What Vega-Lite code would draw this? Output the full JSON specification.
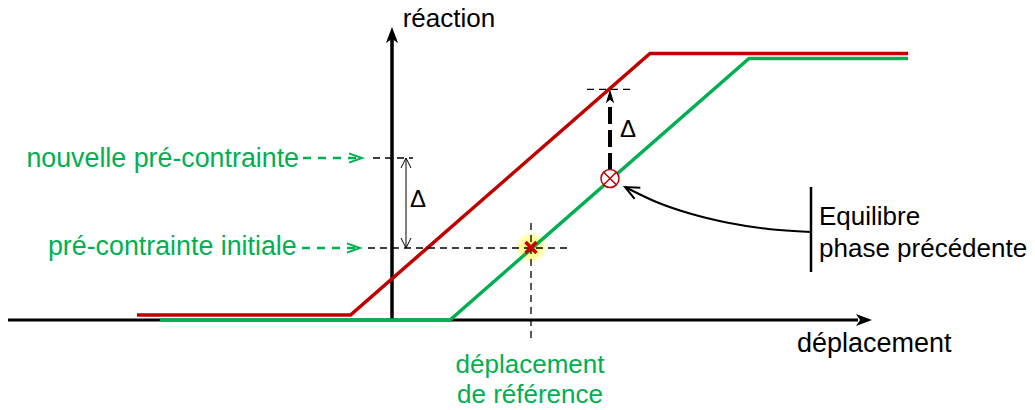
{
  "$schema": "https://vega.github.io/schema/vega-lite/v6.json",
  "width": 1035,
  "height": 410,
  "padding": 0,
  "autosize": {"type": "fit", "contains": "padding"},
  "background": "white",
  "config": {"view": {"stroke": null}},
  "encoding": {
    "x": {"field": "x", "type": "quantitative", "scale": {"domain": [-39.2, 64.3], "nice": false, "zero": false}, "axis": null},
    "y": {"field": "y", "type": "quantitative", "scale": {"domain": [-9, 32], "nice": false, "zero": false}, "axis": null}
  },
  "layer": [
    {"data": {"values": [{"x": 13.9, "y": 7.25}]}, "mark": {"type": "point", "shape": "circle", "filled": true, "color": "#ffff99", "opacity": 0.5, "size": 900}},
    {"data": {"values": [{"x": 13.9, "y": 7.25}]}, "mark": {"type": "point", "shape": "circle", "filled": true, "color": "#ffff66", "opacity": 0.55, "size": 484}},
    {"data": {"values": [{"x": 13.9, "y": 7.25}]}, "mark": {"type": "point", "shape": "circle", "filled": true, "color": "#ffff33", "opacity": 0.5, "size": 196}},
    {"data": {"values": [{"x": -38.4, "y": 0, "x2": 46.6, "y2": 0}]}, "mark": {"type": "rule", "color": "black", "strokeWidth": 3},
     "encoding": {"x2": {"field": "x2"}, "y2": {"field": "y2"}}},
    {"data": {"values": [{"x": 0, "y": 0, "x2": 0, "y2": 28.2}]}, "mark": {"type": "rule", "color": "black", "strokeWidth": 3.5},
     "encoding": {"x2": {"field": "x2"}, "y2": {"field": "y2"}}},
    {"data": {"values": [{"x": 48.0, "y": 0}]}, "mark": {"type": "point", "shape": "M0,0 L-1,-0.38 L-0.75,0 L-1,0.38 Z", "filled": true, "color": "black", "opacity": 1, "size": 1024, "angle": 0}},
    {"data": {"values": [{"x": 0, "y": 29.3}]}, "mark": {"type": "point", "shape": "M0,0 L-1,-0.38 L-0.75,0 L-1,0.38 Z", "filled": true, "color": "black", "opacity": 1, "size": 1024, "angle": -90}},
    {"data": {"values": [{"x": -23.2, "y": 0}, {"x": 5.8, "y": 0}, {"x": 35.7, "y": 26.15}, {"x": 51.6, "y": 26.15}]}, "mark": {"type": "line", "color": "#00b050", "strokeWidth": 3.5}, "encoding": {}},
    {"data": {"values": [{"x": -25.5, "y": 0.5}, {"x": -4.15, "y": 0.5}, {"x": 25.8, "y": 26.65}, {"x": 51.6, "y": 26.65}]}, "mark": {"type": "line", "color": "#c00000", "strokeWidth": 3.5}, "encoding": {}},
    {"data": {"values": [
      {"x": -1.9, "y": 16.2, "x2": 2.1, "y2": 16.2},
      {"x": -2.4, "y": 7.2, "x2": 17.5, "y2": 7.2},
      {"x": 19.5, "y": 23.07, "x2": 24.3, "y2": 23.07},
      {"x": 13.9, "y": 9.7, "x2": 13.9, "y2": -2.2}
    ]}, "mark": {"type": "rule", "color": "black", "strokeWidth": 1.3, "strokeDash": [7, 5]},
     "encoding": {"x2": {"field": "x2"}, "y2": {"field": "y2"}}},
    {"data": {"values": [
      {"x": -8.9, "y": 16.2, "x2": -3.3, "y2": 16.2},
      {"x": -9.0, "y": 7.2, "x2": -3.5, "y2": 7.2}
    ]}, "mark": {"type": "rule", "color": "#00b050", "strokeWidth": 2.5, "strokeDash": [8, 7]},
     "encoding": {"x2": {"field": "x2"}, "y2": {"field": "y2"}}},
    {"data": {"values": [{"x": -3.0, "y": 16.2}, {"x": -3.2, "y": 7.2}]}, "mark": {"type": "point", "shape": "M-1,-0.36 L0,0 L-1,0.36", "filled": false, "color": "#00b050", "strokeWidth": 2, "opacity": 1, "size": 676, "angle": 0}},
    {"data": {"values": [{"x": 1.4, "y": 7.25, "x2": 1.4, "y2": 16.15}]}, "mark": {"type": "rule", "color": "black", "strokeWidth": 1},
     "encoding": {"x2": {"field": "x2"}, "y2": {"field": "y2"}}},
    {"data": {"values": [{"x": 1.4, "y": 16.2}]}, "mark": {"type": "point", "shape": "M-1,-0.5 L0,0 L-1,0.5", "filled": false, "color": "black", "strokeWidth": 1, "opacity": 1, "size": 400, "angle": -90}},
    {"data": {"values": [{"x": 1.4, "y": 7.2}]}, "mark": {"type": "point", "shape": "M-1,-0.5 L0,0 L-1,0.5", "filled": false, "color": "black", "strokeWidth": 1, "opacity": 1, "size": 400, "angle": 90}},
    {"data": {"values": [{"x": 21.8, "y": 15.0, "x2": 21.8, "y2": 21.9}]}, "mark": {"type": "rule", "color": "black", "strokeWidth": 4, "strokeDash": [17, 6]},
     "encoding": {"x2": {"field": "x2"}, "y2": {"field": "y2"}}},
    {"data": {"values": [{"x": 21.8, "y": 23.07}]}, "mark": {"type": "point", "shape": "M0,0 L-1,-0.3 L-0.75,0 L-1,0.3 Z", "filled": true, "color": "black", "opacity": 1, "size": 784, "angle": -90}},
    {"data": {"values": [{"x": 21.8, "y": 14.15}]}, "mark": {"type": "point", "shape": "circle", "filled": true, "fill": "white", "stroke": "#c00000", "strokeWidth": 1.5, "opacity": 1, "size": 324}},
    {"data": {"values": [{"x": 21.8, "y": 14.15}]}, "mark": {"type": "point", "shape": "M-0.7,-0.7 L0.7,0.7 M-0.7,0.7 L0.7,-0.7", "filled": false, "color": "#c00000", "strokeWidth": 1.5, "opacity": 1, "size": 324}},
    {"data": {"values": [{"x": 13.9, "y": 7.25}]}, "mark": {"type": "point", "shape": "M-1,-1 L1,1 M-1,1 L1,-1", "filled": false, "color": "#c80000", "strokeWidth": 3.5, "opacity": 1, "size": 121}},
    {"data": {"values": [{"x": 41.9, "y": 8.8}, {"x": 37.6, "y": 9.1}, {"x": 33.6, "y": 9.72}, {"x": 29.88, "y": 10.62}, {"x": 26.44, "y": 11.8}, {"x": 23.4, "y": 13.25}]}, "mark": {"type": "line", "color": "black", "strokeWidth": 2, "interpolate": "monotone"}, "encoding": {}},
    {"data": {"values": [{"x": 23.3, "y": 13.3}]}, "mark": {"type": "point", "shape": "M-1,-0.45 L0,0 L-1,0.45", "filled": false, "color": "black", "strokeWidth": 2, "opacity": 1, "size": 784, "angle": 207}},
    {"data": {"values": [{"x": 41.9, "y": 4.8, "x2": 41.9, "y2": 13.3}]}, "mark": {"type": "rule", "color": "black", "strokeWidth": 2.5},
     "encoding": {"x2": {"field": "x2"}, "y2": {"field": "y2"}}},
    {"data": {"values": [
      {"x": 1.07, "y": 29.33, "label": "réaction"},
      {"x": 42.7, "y": 9.5, "label": "Equilibre"},
      {"x": 42.7, "y": 6.33, "label": "phase précédente"}
    ]}, "mark": {"type": "text", "align": "left", "baseline": "alphabetic", "font": "Liberation Sans", "fontSize": 26, "color": "black"},
     "encoding": {"text": {"field": "label"}}},
    {"data": {"values": [
      {"x": 40.5, "y": -3.17, "label": "déplacement"}
    ]}, "mark": {"type": "text", "align": "left", "baseline": "alphabetic", "font": "Liberation Sans", "fontSize": 27, "color": "black"},
     "encoding": {"text": {"field": "label"}}},
    {"data": {"values": [
      {"x": 2.6, "y": 12.0, "label": "Δ"},
      {"x": 23.6, "y": 19.0, "label": "Δ"}
    ]}, "mark": {"type": "text", "align": "center", "baseline": "middle", "font": "Liberation Sans", "fontSize": 24, "color": "black"},
     "encoding": {"text": {"field": "label"}}},
    {"data": {"values": [
      {"x": -9.3, "y": 15.33, "label": "nouvelle pré-contrainte"},
      {"x": -9.53, "y": 6.5, "label": "pré-contrainte initiale"}
    ]}, "mark": {"type": "text", "align": "right", "baseline": "alphabetic", "font": "Liberation Sans", "fontSize": 26.8, "color": "#00b050"},
     "encoding": {"text": {"field": "label"}}},
    {"data": {"values": [
      {"x": 13.8, "y": -5.33, "label": "déplacement"},
      {"x": 13.8, "y": -8.33, "label": "de référence"}
    ]}, "mark": {"type": "text", "align": "center", "baseline": "alphabetic", "font": "Liberation Sans", "fontSize": 26, "color": "#00b050"},
     "encoding": {"text": {"field": "label"}}}
  ]
}
